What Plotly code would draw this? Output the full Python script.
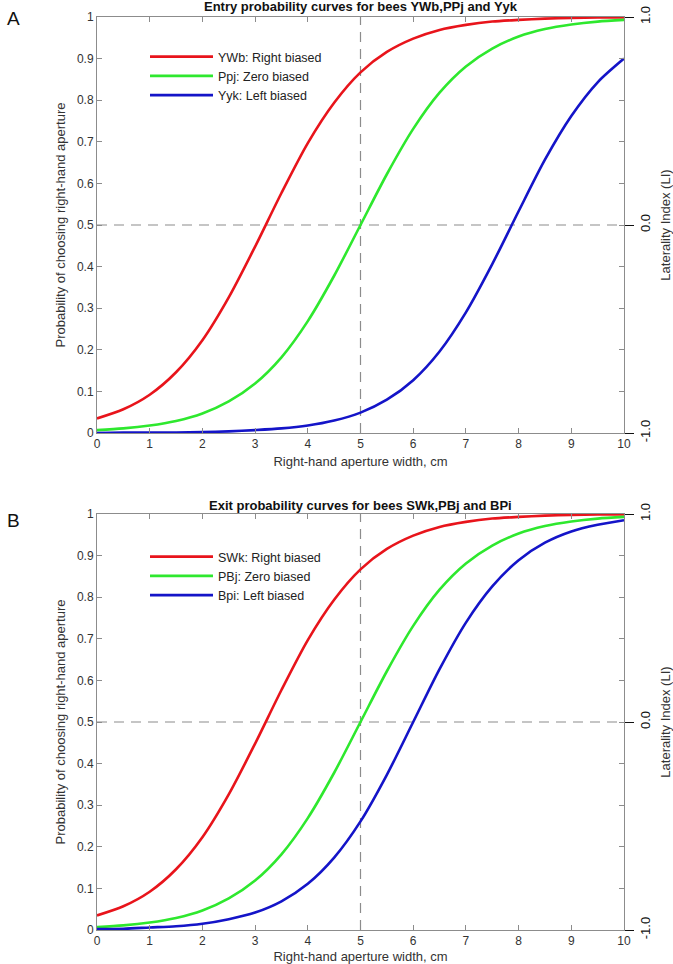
import plotly.graph_objects as go

# ---------------- data ----------------
x_cm = [0, 0.5, 1, 1.5, 2, 2.5, 3, 3.5, 4, 4.5, 5, 5.5, 6, 6.5, 7, 7.5, 8, 8.5, 9, 9.5, 10]

# Panel A: entry probability curves
ywb = [0.035, 0.057, 0.092, 0.146, 0.223, 0.326, 0.448, 0.577, 0.697, 0.794, 0.867,
       0.916, 0.948, 0.969, 0.981, 0.989, 0.993, 0.996, 0.998, 0.999, 0.999]
ppj = [0.007, 0.011, 0.018, 0.029, 0.047, 0.076, 0.119, 0.182, 0.269, 0.378, 0.500,
       0.622, 0.731, 0.818, 0.881, 0.924, 0.953, 0.971, 0.982, 0.989, 0.993]
yyk = [0.000, 0.001, 0.001, 0.001, 0.002, 0.004, 0.007, 0.011, 0.018, 0.030, 0.049,
       0.080, 0.127, 0.196, 0.290, 0.406, 0.533, 0.657, 0.762, 0.843, 0.900]

# Panel B: exit probability curves
swk = [0.035, 0.057, 0.092, 0.146, 0.223, 0.326, 0.448, 0.577, 0.697, 0.794, 0.867,
       0.916, 0.948, 0.969, 0.981, 0.989, 0.993, 0.996, 0.998, 0.999, 0.999]
pbj = [0.007, 0.011, 0.018, 0.029, 0.047, 0.076, 0.119, 0.182, 0.269, 0.378, 0.500,
       0.622, 0.731, 0.818, 0.881, 0.924, 0.953, 0.971, 0.982, 0.989, 0.993]
bpi = [0.002, 0.003, 0.006, 0.009, 0.015, 0.026, 0.042, 0.069, 0.111, 0.174, 0.261,
       0.373, 0.500, 0.627, 0.739, 0.826, 0.889, 0.931, 0.958, 0.974, 0.985]

names_a = ["YWb: Right biased", "Ppj: Zero biased", "Yyk: Left biased"]
names_b = ["SWk: Right biased", "PBj: Zero biased", "Bpi: Left biased"]
titles = ["Entry probability curves for bees YWb,PPj and Yyk",
          "Exit probability curves for bees SWk,PBj and BPi"]
panel_labels = ["A", "B"]

x_ticks = [0, 1, 2, 3, 4, 5, 6, 7, 8, 9, 10]
p_ticks = [0, 0.1, 0.2, 0.3, 0.4, 0.5, 0.6, 0.7, 0.8, 0.9, 1]
p_tick_text = ["0", "0.1", "0.2", "0.3", "0.4", "0.5", "0.6", "0.7", "0.8", "0.9", "1"]
li_ticks = [-1, 0, 1]
li_tick_text = ["-1.0", "0.0", "1.0"]
ref_x = [5, 5]
ref_x_span = [0, 1]
ref_p = [0.5, 0.5]
ref_p_span = [0, 10]

colors = ["#e8141b", "#2ee82e", "#1414c8"]
FONT = "Liberation Sans, Arial, Helvetica, sans-serif"
GRAY = "#8c8c8c"

W, H = 673, 964
x_dom = [97 / W, 624 / W]
y_dom_a = [1 - 433 / H, 1 - 17 / H]
y_dom_b = [1 - 930 / H, 1 - 514 / H]

fig = go.Figure()

panels = [
    ("x", "y", "legend", names_a, [ywb, ppj, yyk]),
    ("x2", "y3", "legend2", names_b, [swk, pbj, bpi]),
]

for xa, ya, leg, names, series in panels:
    # reference dashed lines
    fig.add_trace(go.Scatter(x=ref_x, y=ref_x_span, mode="lines", xaxis=xa, yaxis=ya,
                             line=dict(color=GRAY, width=1.2, dash="10px,7px"),
                             showlegend=False, hoverinfo="skip"))
    fig.add_trace(go.Scatter(x=ref_p_span, y=ref_p, mode="lines", xaxis=xa, yaxis=ya,
                             line=dict(color=GRAY, width=1.2, dash="10px,7px"),
                             showlegend=False, hoverinfo="skip"))
    for name, vals, c in zip(names, series, colors):
        fig.add_trace(go.Scatter(x=x_cm, y=vals, mode="lines", name=name,
                                 xaxis=xa, yaxis=ya, legend=leg,
                                 line=dict(color=c, width=2.6, shape="spline", smoothing=0.8)))

xaxis_common = dict(range=[0, 10], tickvals=x_ticks, ticks="inside", ticklen=5,
                    tickcolor=GRAY, showline=True, linecolor=GRAY, linewidth=1,
                    mirror="ticks", showgrid=False, zeroline=False,
                    tickfont=dict(family=FONT, size=12, color="#333"),
                    title=dict(text="Right-hand aperture width, cm",
                               font=dict(family=FONT, size=13, color="#333"), standoff=6),
                    automargin=False, domain=x_dom)
yaxis_common = dict(range=[0, 1], tickvals=p_ticks, ticktext=p_tick_text, ticks="inside",
                    ticklen=5, tickcolor=GRAY, showline=True, linecolor=GRAY, linewidth=1,
                    mirror="ticks", showgrid=False, zeroline=False,
                    tickfont=dict(family=FONT, size=12, color="#333"),
                    title=dict(text="Probability of choosing right-hand aperture",
                               font=dict(family=FONT, size=13, color="#333"), standoff=8),
                    automargin=False)
li_common = dict(range=[-1, 1], tickvals=li_ticks, ticktext=li_tick_text, side="right",
                 ticks="outside", ticklen=9, tickcolor="#111", tickwidth=1.3,
                 tickangle=-90, showline=False, showgrid=False, zeroline=False,
                 tickfont=dict(family=FONT, size=13, color="#111"),
                 title=dict(text="Laterality Index (LI)",
                            font=dict(family=FONT, size=13, color="#333"), standoff=9),
                 automargin=False)

fig.update_layout(
    width=W, height=H, margin=dict(l=0, r=0, t=0, b=0),
    paper_bgcolor="white", plot_bgcolor="white",
    xaxis=dict(anchor="y", **xaxis_common),
    yaxis=dict(anchor="x", domain=y_dom_a, **yaxis_common),
    yaxis2=dict(anchor="x", overlaying="y", **li_common),
    xaxis2=dict(anchor="y3", **xaxis_common),
    yaxis3=dict(anchor="x2", domain=y_dom_b, **yaxis_common),
    yaxis4=dict(anchor="x2", overlaying="y3", **li_common),
    legend=dict(x=145 / W, y=1 - 42 / H, xanchor="left", yanchor="top",
                bgcolor="rgba(0,0,0,0)", font=dict(family=FONT, size=12.5, color="#222"),
                itemwidth=63, tracegroupgap=0),
    legend2=dict(x=145 / W, y=1 - 542 / H, xanchor="left", yanchor="top",
                 bgcolor="rgba(0,0,0,0)", font=dict(family=FONT, size=12.5, color="#222"),
                 itemwidth=63, tracegroupgap=0),
    showlegend=True,
)

# invisible traces so the Laterality axes are drawn
fig.add_trace(go.Scatter(x=[None], y=[None], xaxis="x", yaxis="y2", showlegend=False))
fig.add_trace(go.Scatter(x=[None], y=[None], xaxis="x2", yaxis="y4", showlegend=False))

title_y = [1 - 7 / H, 1 - 505 / H]
label_y = [1 - 18 / H, 1 - 520 / H]
for t, ty, lab, ly in zip(titles, title_y, panel_labels, label_y):
    fig.add_annotation(text="<b>" + t + "</b>", x=(x_dom[0] + x_dom[1]) / 2, y=ty,
                       xref="paper", yref="paper", showarrow=False,
                       font=dict(family=FONT, size=13, color="#111"), yanchor="middle")
    fig.add_annotation(text=lab, x=13 / W, y=ly, xref="paper", yref="paper",
                       showarrow=False, xanchor="center", yanchor="middle",
                       font=dict(family=FONT, size=19, color="#111"))

fig.write_html("out.html", config={"displayModeBar": False},
               post_script="document.body.style.margin='0';")
